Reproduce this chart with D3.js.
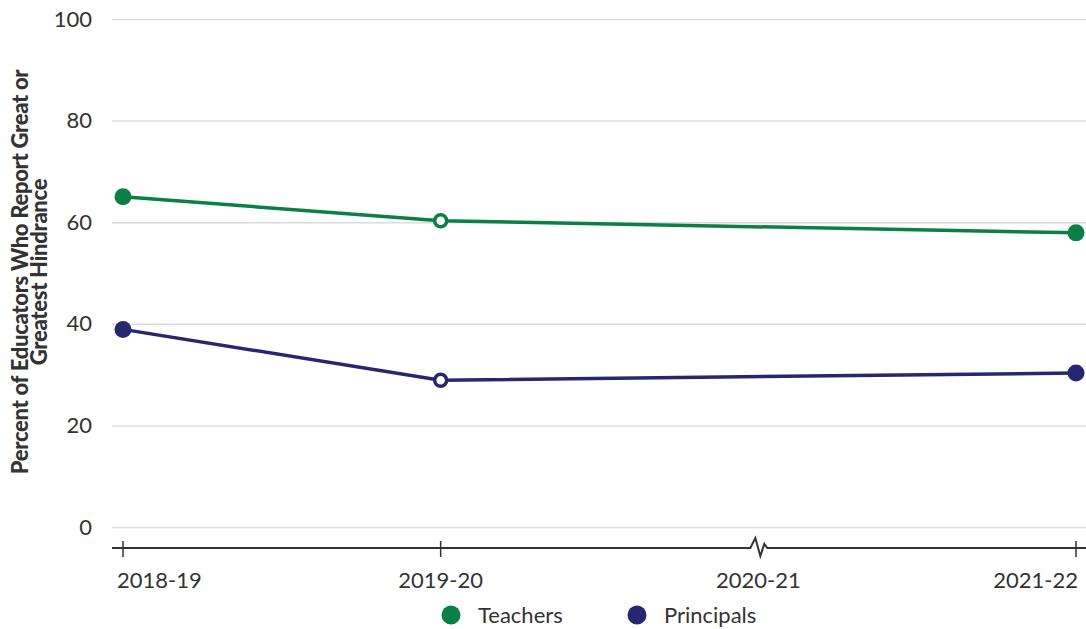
<!DOCTYPE html>
<html>
<head>
<meta charset="utf-8">
<script src="https://cdn.jsdelivr.net/npm/d3@7/dist/d3.min.js"></script>
<style>
  html, body { margin: 0; padding: 0; background: #fff; }
  svg { display: block; font-family: Lato, "Open Sans", sans-serif; }
</style>
</head>
<body>
<svg id="chart" width="1086" height="629"></svg>
<script>
// School years on the x axis; 2020-21 has no survey and is marked by a break.
const years = ["2018-19", "2019-20", "2020-21", "2021-22"];
const teachers = [65, 60.3, null, 57.9];
const principals = [38.9, 28.9, null, 30.3];
// Years whose markers are drawn hollow.
const hollowYears = ["2019-20"];
const yTicks = [0, 20, 40, 60, 80, 100];
const seriesNames = ["Teachers", "Principals"];
const colors = ["#0b7f45", "#262770"];

const svg = d3.select("#chart");

const x = d3.scalePoint().domain(years).range([123, 1076]);
const y = d3.scaleLinear().domain([0, 100]).range([527, 19]);

// Horizontal gridlines with their labels
const yAxis = svg.append("g")
  .attr("transform", "translate(112,0)")
  .call(d3.axisLeft(y).tickValues(yTicks).tickSize(-974).tickPadding(20));
yAxis.select(".domain").remove();
yAxis.selectAll(".tick line").attr("stroke", "#dcdcdc").attr("stroke-width", 1.5);
yAxis.selectAll(".tick text")
  .attr("fill", "#333").attr("font-size", 22).attr("font-family", "Lato, sans-serif");

// Y axis title
svg.append("text")
  .attr("transform", "translate(0,272) rotate(-90)")
  .attr("text-anchor", "middle")
  .attr("font-weight", 900)
  .attr("font-size", 22)
  .attr("fill", "#333")
  .attr("letter-spacing", -0.3)
  .selectAll("tspan")
  .data(["Percent of Educators Who Report Great or", "Greatest Hindrance"])
  .join("tspan")
  .attr("x", 0)
  .attr("y", (d, i) => 28 + i * 19)
  .text(d => d);

// X axis baseline with a break at 2020-21
const axisY = 548;
const bx = x("2020-21");
const xAxisG = svg.append("g");
xAxisG.append("path")
  .attr("d", `M112,${axisY} H${bx - 14} L${bx - 8},${axisY} L${bx - 3},${axisY - 10} L${bx + 2},${axisY + 8} L${bx + 6},${axisY - 4} L${bx + 9},${axisY} H1086`)
  .attr("fill", "none").attr("stroke", "#333").attr("stroke-width", 2);

const tickYears = years.filter(d => d !== "2020-21");
xAxisG.selectAll("line.tick")
  .data(tickYears)
  .join("line")
  .attr("class", "tick")
  .attr("x1", d => x(d)).attr("x2", d => x(d))
  .attr("y1", axisY - 7).attr("y2", axisY + 9)
  .attr("stroke", "#333").attr("stroke-width", 1.5);

xAxisG.selectAll("text")
  .data(years)
  .join("text")
  .attr("x", d => x(d))
  .attr("y", 588)
  .attr("text-anchor", d => d === "2018-19" ? "start" : d === "2021-22" ? "end" : "middle")
  .attr("dx", d => d === "2018-19" ? -6 : d === "2021-22" ? 2 : 0)
  .attr("font-size", 22)
  .attr("fill", "#333")
  .text(d => d);

// Lines and markers
const seriesData = [teachers, principals];
const line = d3.line()
  .defined(d => d.v !== null)
  .x(d => x(d.year))
  .y(d => y(d.v));

seriesData.forEach((vals, si) => {
  const pts = years.map((year, i) => ({ year, v: vals[i] })).filter(d => d.v !== null);
  svg.append("path")
    .datum(pts)
    .attr("d", line)
    .attr("fill", "none")
    .attr("stroke", colors[si])
    .attr("stroke-width", 3.5);

  svg.selectAll(null)
    .data(pts)
    .join("circle")
    .attr("cx", d => x(d.year))
    .attr("cy", d => y(d.v))
    .attr("r", d => hollowYears.includes(d.year) ? 6 : 8.5)
    .attr("fill", d => hollowYears.includes(d.year) ? "#fff" : colors[si])
    .attr("stroke", colors[si])
    .attr("stroke-width", d => hollowYears.includes(d.year) ? 3.5 : 0);
});

// Legend
const legendX = [451, 637];
const legend = svg.selectAll("g.legend")
  .data(seriesNames)
  .join("g")
  .attr("class", "legend")
  .attr("transform", (d, i) => `translate(${legendX[i]},615)`);
legend.append("circle").attr("r", 9.5).attr("fill", (d, i) => colors[i]);
legend.append("text")
  .attr("x", 27).attr("y", 8)
  .attr("font-size", 22).attr("fill", "#333")
  .text(d => d);
</script>
</body>
</html>
